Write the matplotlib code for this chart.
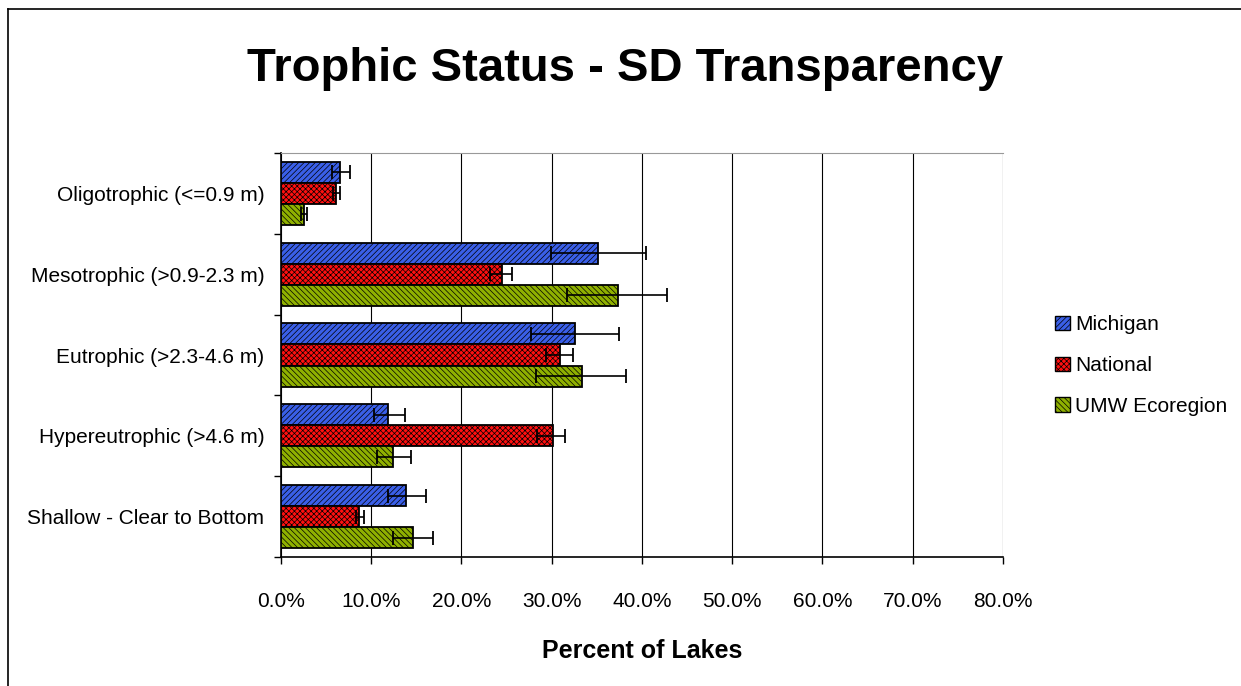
import numpy as np
import matplotlib
matplotlib.use('Agg')
import matplotlib.pyplot as plt
from matplotlib.lines import Line2D
from matplotlib.ticker import FuncFormatter

categorias = ["Oligotrophic (<=0.9 m)", "Mesotrophic (>0.9-2.3 m)", "Eutrophic (>2.3-4.6 m)",
              "Hypereutrophic (>4.6 m)", "Shallow - Clear to Bottom"]
series = ["Michigan", "National", "UMW Ecoregion"]

# porcentajes y limites del intervalo (inferior, superior)
michigan = [6.5, 35.1, 32.6, 11.9, 13.9]
michigan_bajo = [5.6, 29.9, 27.7, 10.3, 11.9]
michigan_alto = [7.6, 40.4, 37.5, 13.7, 16.1]

nacional = [6.1, 24.5, 30.9, 30.1, 8.7]
nacional_bajo = [5.8, 23.2, 29.4, 28.4, 8.3]
nacional_alto = [6.5, 25.6, 32.4, 31.5, 9.2]

umw = [2.6, 37.3, 33.3, 12.4, 14.6]
umw_bajo = [2.2, 31.7, 28.3, 10.6, 12.4]
umw_alto = [2.9, 42.8, 38.2, 14.4, 16.8]

colores = ["#3a5fe8", "#ff1010", "#8fb000"]
tramas = ["//////", "xxxxxx", "\\\\\\\\\\\\"]

plt.rcParams['font.family'] = ['Liberation Sans', 'DejaVu Sans']
plt.rcParams['hatch.linewidth'] = 0.5

fig = plt.figure(figsize=(12.41, 6.86), dpi=100)
ax = fig.add_axes([0.2264, 0.188, 0.5818, 0.589])

y = np.arange(len(categorias))
alto = 0.26
datos = [(michigan, michigan_bajo, michigan_alto),
         (nacional, nacional_bajo, nacional_alto),
         (umw, umw_bajo, umw_alto)]
for i, (vals, bajo, alto_ic) in enumerate(datos):
    pos = y + (i - 1) * alto
    vals = np.array(vals)
    err = [vals - np.array(bajo), np.array(alto_ic) - vals]
    ax.barh(pos, vals, height=alto, color=colores[i], edgecolor='black', linewidth=1.3,
            hatch=tramas[i], zorder=3)
    ax.errorbar(vals, pos, xerr=err, fmt='none', ecolor='black', elinewidth=1.2,
                capsize=5, capthick=1.3, zorder=4)

ax.set_xlim(0, 80)
ax.set_ylim(4.5, -0.5)
ax.set_xticks(np.arange(0, 81, 10))
ax.xaxis.set_major_formatter(FuncFormatter(lambda v, p: f"{v:.1f}%"))
ax.set_yticks(y)
ax.set_yticklabels(categorias, fontsize=15)
ax.set_yticks(np.arange(-0.5, 5, 1), minor=True)
ax.tick_params(axis='y', which='major', length=0, pad=12)
ax.tick_params(axis='y', which='minor', length=5, width=1, direction='out')
ax.tick_params(axis='x', length=5, width=1, direction='out', labelsize=15, pad=20)
ax.grid(axis='x', color='black', linewidth=0.8, zorder=0)
ax.spines['top'].set_color('#999999')
ax.spines['right'].set_visible(False)
ax.spines['left'].set_linewidth(1.2)
ax.spines['bottom'].set_linewidth(1.2)
ax.set_xlabel("Percent of Lakes", fontsize=18, fontweight='bold', labelpad=20)

fig.text(0.504, 0.9, "Trophic Status - SD Transparency", fontsize=34, fontweight='bold',
         ha='center', va='center')

handles = [plt.Rectangle((0, 0), 1, 1, facecolor=colores[i], edgecolor='black',
                         hatch=tramas[i], linewidth=1) for i in range(3)]
fig.legend(handles, series, loc='center left', bbox_to_anchor=(0.835, 0.467), frameon=False,
           fontsize=15, handlelength=0.7, handleheight=0.7, handletextpad=0.25,
           labelspacing=1.05)

# marco de la figura
fig.add_artist(Line2D([7.5 / 1241, 7.5 / 1241], [0, 1 - 9 / 686], color='black', linewidth=1.2,
                      transform=fig.transFigure))
fig.add_artist(Line2D([7.5 / 1241, 1], [1 - 9 / 686, 1 - 9 / 686], color='black', linewidth=1.2,
                      transform=fig.transFigure))

fig.savefig("out.png", dpi=100)
plt.close(fig)
